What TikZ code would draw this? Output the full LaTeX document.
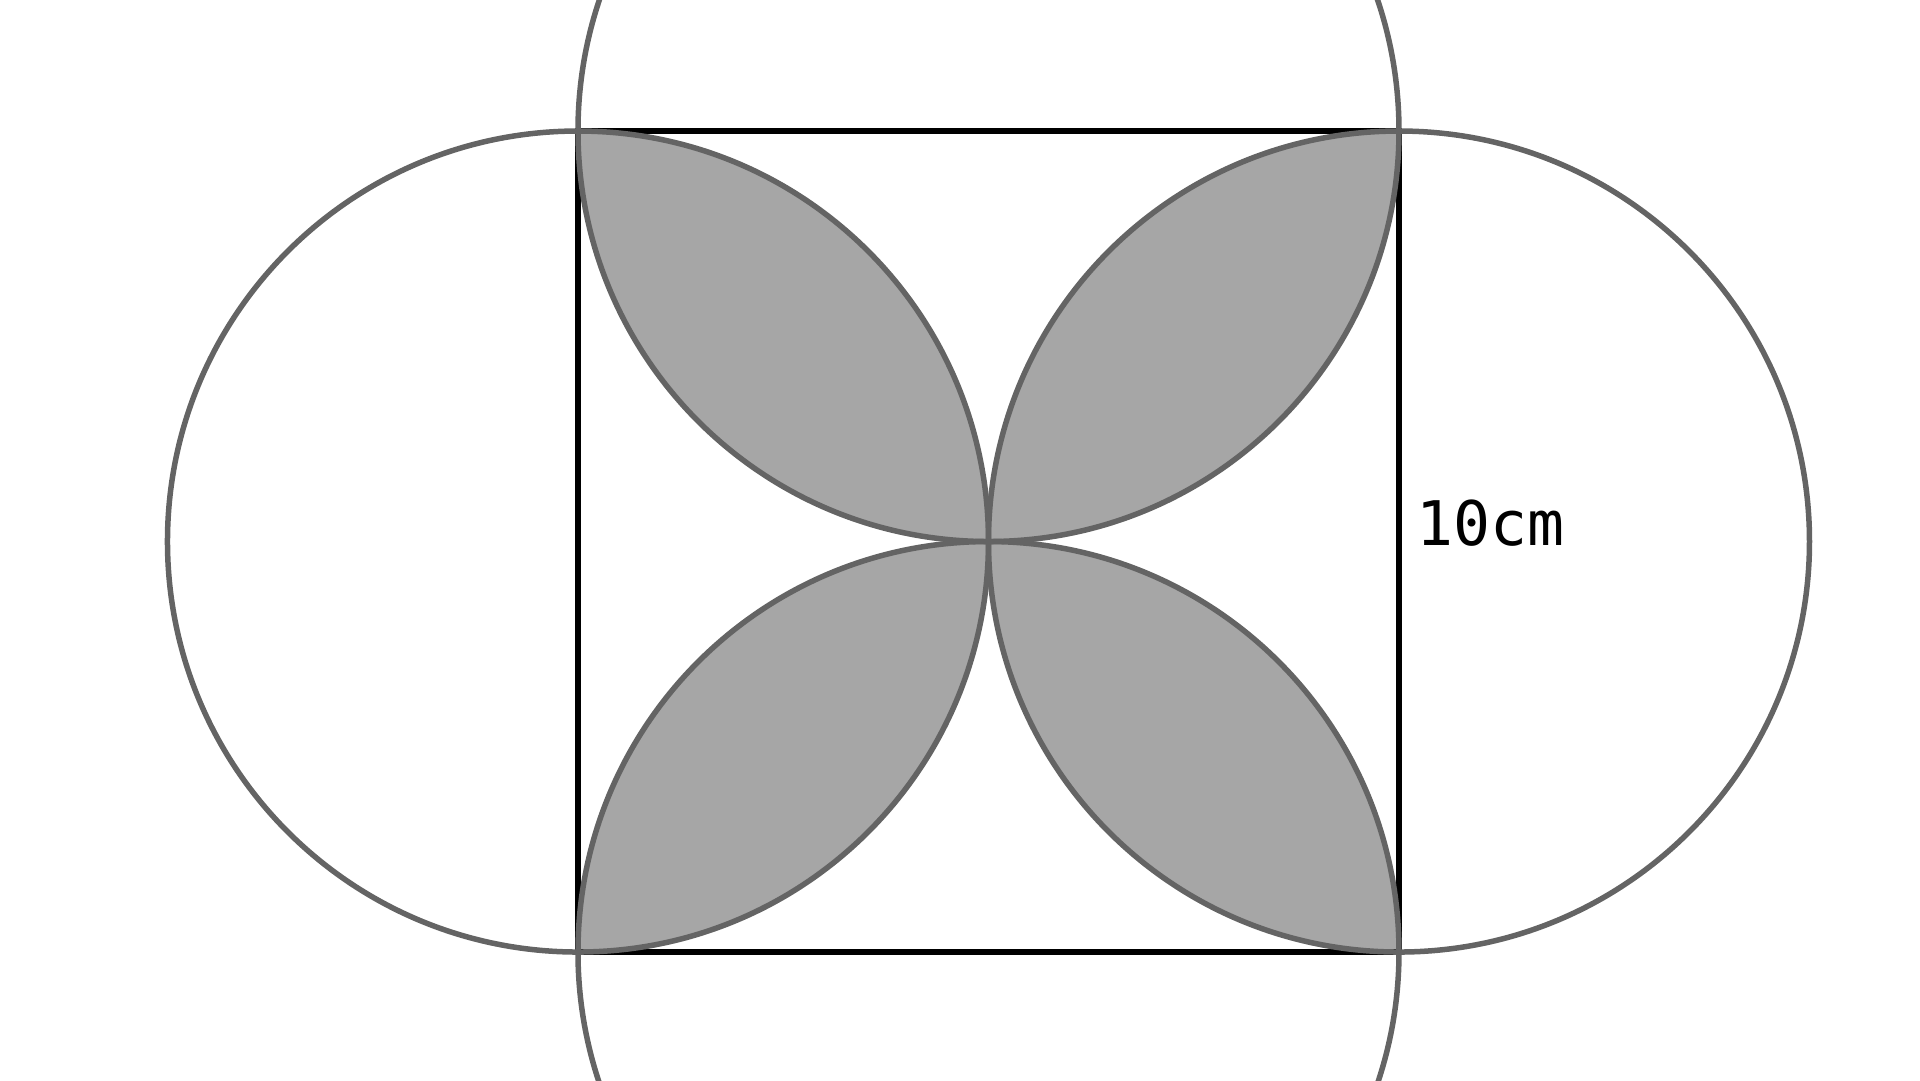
\documentclass[tikz,border=0pt]{standalone}
\usepackage{fontspec}
\setmonofont{DejaVu Sans Mono}
\definecolor{petal}{HTML}{A6A6A6}
\definecolor{rim}{HTML}{646464}
\tikzset{
  petalfill/.style={fill=petal},
  rimline/.style={draw=rim, line width=0.55mm},
  squareline/.style={draw=black, line width=0.6mm},
  sidelabel/.style={font=\ttfamily\fontsize{17.5pt}{21pt}\selectfont, inner sep=0pt, anchor=base west}
}
\begin{document}
\begin{tikzpicture}[x=8.21mm, y=8.21mm]
\useasboundingbox (-7.040,-1.559) rectangle (16.346,11.596);
\clip (-7.040,-1.559) rectangle (16.346,11.596);
% petals
\fill[petalfill] (0,10) arc[start angle=90, end angle=0, radius=5] arc[start angle=270, end angle=180, radius=5] -- cycle;
\fill[petalfill] (5,5) arc[start angle=270, end angle=360, radius=5] arc[start angle=90, end angle=180, radius=5] -- cycle;
\fill[petalfill] (5,5) arc[start angle=180, end angle=270, radius=5] arc[start angle=0, end angle=90, radius=5] -- cycle;
\fill[petalfill] (0,0) arc[start angle=180, end angle=90, radius=5] arc[start angle=0, end angle=-90, radius=5] -- cycle;
% square
\draw[squareline] (0,0) rectangle (10,10);
% circles
\draw[rimline] (0,5) circle[radius=5];
\draw[rimline] (10,5) circle[radius=5];
\draw[rimline] (5,10) circle[radius=5];
\draw[rimline] (5,0) circle[radius=5];
% label
\node[sidelabel] (lbl) at (10.20,4.957) {10cm};
\end{tikzpicture}
\end{document}
